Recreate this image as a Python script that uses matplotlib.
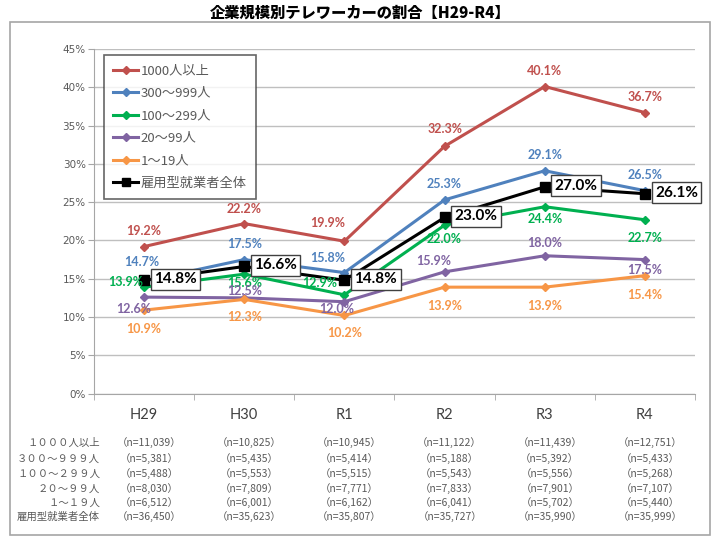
import matplotlib.pyplot as plt
import matplotlib.transforms as mtransforms
from matplotlib.patches import Rectangle

plt.rcParams['font.family'] = ['Noto Sans CJK JP', 'DejaVu Sans']

years = ['H29', 'H30', 'R1', 'R2', 'R3', 'R4']

v_1000 = [19.2, 22.2, 19.9, 32.3, 40.1, 36.7]
v_300 = [14.7, 17.5, 15.8, 25.3, 29.1, 26.5]
v_100 = [13.9, 15.6, 12.9, 22.0, 24.4, 22.7]
v_20 = [12.6, 12.5, 12.0, 15.9, 18.0, 17.5]
v_1 = [10.9, 12.3, 10.2, 13.9, 13.9, 15.4]
v_all = [14.8, 16.6, 14.8, 23.0, 27.0, 26.1]

legend_names = ['1000人以上', '300～999人', '100～299人', '20～99人', '1～19人', '雇用型就業者全体']
row_names = ['１０００人以上', '３００～９９９人', '１００～２９９人', '２０～９９人', '１～１９人', '雇用型就業者全体']

n_1000 = ['11,039', '10,825', '10,945', '11,122', '11,439', '12,751']
n_300 = ['5,381', '5,435', '5,414', '5,188', '5,392', '5,433']
n_100 = ['5,488', '5,553', '5,515', '5,543', '5,556', '5,268']
n_20 = ['8,030', '7,809', '7,771', '7,833', '7,901', '7,107']
n_1 = ['6,512', '6,001', '6,162', '6,041', '5,702', '5,440']
n_all = ['36,450', '35,623', '35,807', '35,727', '35,990', '35,999']

colors = ['#C0504D', '#4F81BD', '#00B050', '#8064A2', '#F79646', '#000000']
series = [v_1000, v_300, v_100, v_20, v_1, v_all]
counts = [n_1000, n_300, n_100, n_20, n_1, n_all]

# ラベル位置のずらし (px)
offs = [
    [(0, 16), (0, 15), (-17, 18), (0, 17), (0, 16), (0, 16)],
    [(-2, 19), (0, 16), (-17, 15), (0, 16), (0, 16), (0, 16)],
    [(-18, 5), (0, -9), (-25, 12), (0, -14), (0, -12), (0, -18)],
    [(-10, -12), (0, 7), (-8, -7), (-11, 11), (0, 13), (0, -10)],
    [(0, -19), (0, -18), (0, -18), (0, -19), (0, -19), (0, -19)],
]

fig = plt.figure(figsize=(7.2, 5.43), dpi=100)
fig.patches.append(Rectangle((10 / 720, 1 - 535 / 543), 700 / 720, 513 / 543,
                             transform=fig.transFigure, fill=False,
                             edgecolor='#A6A6A6', linewidth=1.2))
fig.text(0.5, 1 - 13 / 543, '企業規模別テレワーカーの割合【H29-R4】', ha='center', va='center',
         fontsize=11, fontweight='heavy')

ax = fig.add_axes([94 / 720, 1 - 393.6 / 543, 601 / 720, 344.6 / 543])
x = list(range(len(years)))

for i, vals in enumerate(series):
    if i == 5:
        ax.plot(x, vals, color=colors[i], linewidth=2.2, marker='s', markersize=7,
                label=legend_names[i], zorder=5)
    else:
        ax.plot(x, vals, color=colors[i], linewidth=2.2, marker='D', markersize=4.5,
                label=legend_names[i], zorder=4)

for i in range(5):
    for j, v in enumerate(series[i]):
        dx, dy = offs[i][j]
        ax.annotate(f'{v:.1f}%', (j, v), xytext=(dx * 0.72, dy * 0.72),
                    textcoords='offset points', ha='center', va='center',
                    fontsize=9, fontweight='bold', color=colors[i], zorder=6,
                    family=['Lato', 'DejaVu Sans'])

# 全体は枠付きラベル
for j, v in enumerate(v_all):
    ax.annotate(f'{v:.1f}%', (j, v), xytext=(10 * 0.72, 1 * 0.72),
                textcoords='offset points', ha='left', va='center',
                fontsize=11, fontweight='bold', color='black', zorder=7,
                family=['Lato', 'DejaVu Sans'],
                bbox=dict(boxstyle='square,pad=0.22', facecolor='white',
                          edgecolor='#404040', linewidth=1))

ax.set_xlim(-0.5, 5.5)
ax.set_ylim(0, 45)
ax.set_yticks(range(0, 50, 5))
ax.set_yticklabels([f'{t}%' for t in range(0, 50, 5)], fontsize=7.5, color='#595959',
                   family=['DejaVu Sans'])
ax.set_xticks(x)
ax.set_xticklabels([])
ax.set_xticks([k - 0.5 for k in range(7)], minor=True)
ax.tick_params(axis='x', which='major', length=0)
ax.tick_params(axis='x', which='minor', length=4, color='#A6A6A6')
ax.tick_params(axis='y', length=4, color='#A6A6A6', pad=2)
ax.grid(axis='y', color='#BFBFBF', linewidth=1)
ax.set_axisbelow(True)
for s in ['top', 'right']:
    ax.spines[s].set_visible(False)
ax.spines['left'].set_color('#A6A6A6')
ax.spines['bottom'].set_color('#A6A6A6')

leg = ax.legend(loc='upper left', bbox_to_anchor=(10 / 601, 1 - 6 / 344.6),
                fontsize=9.5, frameon=True, fancybox=False, labelspacing=0.72,
                handlelength=1.9, handletextpad=0.2, borderpad=0.7, borderaxespad=0,
                markerscale=0.8)
leg.get_frame().set_edgecolor('#404040')
leg.get_frame().set_linewidth(1.2)
for t in leg.get_texts():
    t.set_color('#595959')

trans = mtransforms.blended_transform_factory(ax.transData, fig.transFigure)
for j, yr in enumerate(years):
    fig.text(j, 1 - 415 / 543, yr, transform=trans, ha='center', va='center',
             fontsize=10.5, color='#404040', family=['Lato', 'DejaVu Sans'])

# 下の表 (n数)
row_y = [443, 459, 474, 489, 503, 517]
for r in range(6):
    fig.text(100 / 720, 1 - row_y[r] / 543, row_names[r], ha='right', va='center',
             fontsize=7.5, color='#595959')
    for j in range(6):
        fig.text(j + 0.05, 1 - row_y[r] / 543, f'（n={counts[r][j]}）', transform=trans,
                 ha='center', va='center', fontsize=7.5, color='#595959')

fig.savefig('out.png', dpi=100)
